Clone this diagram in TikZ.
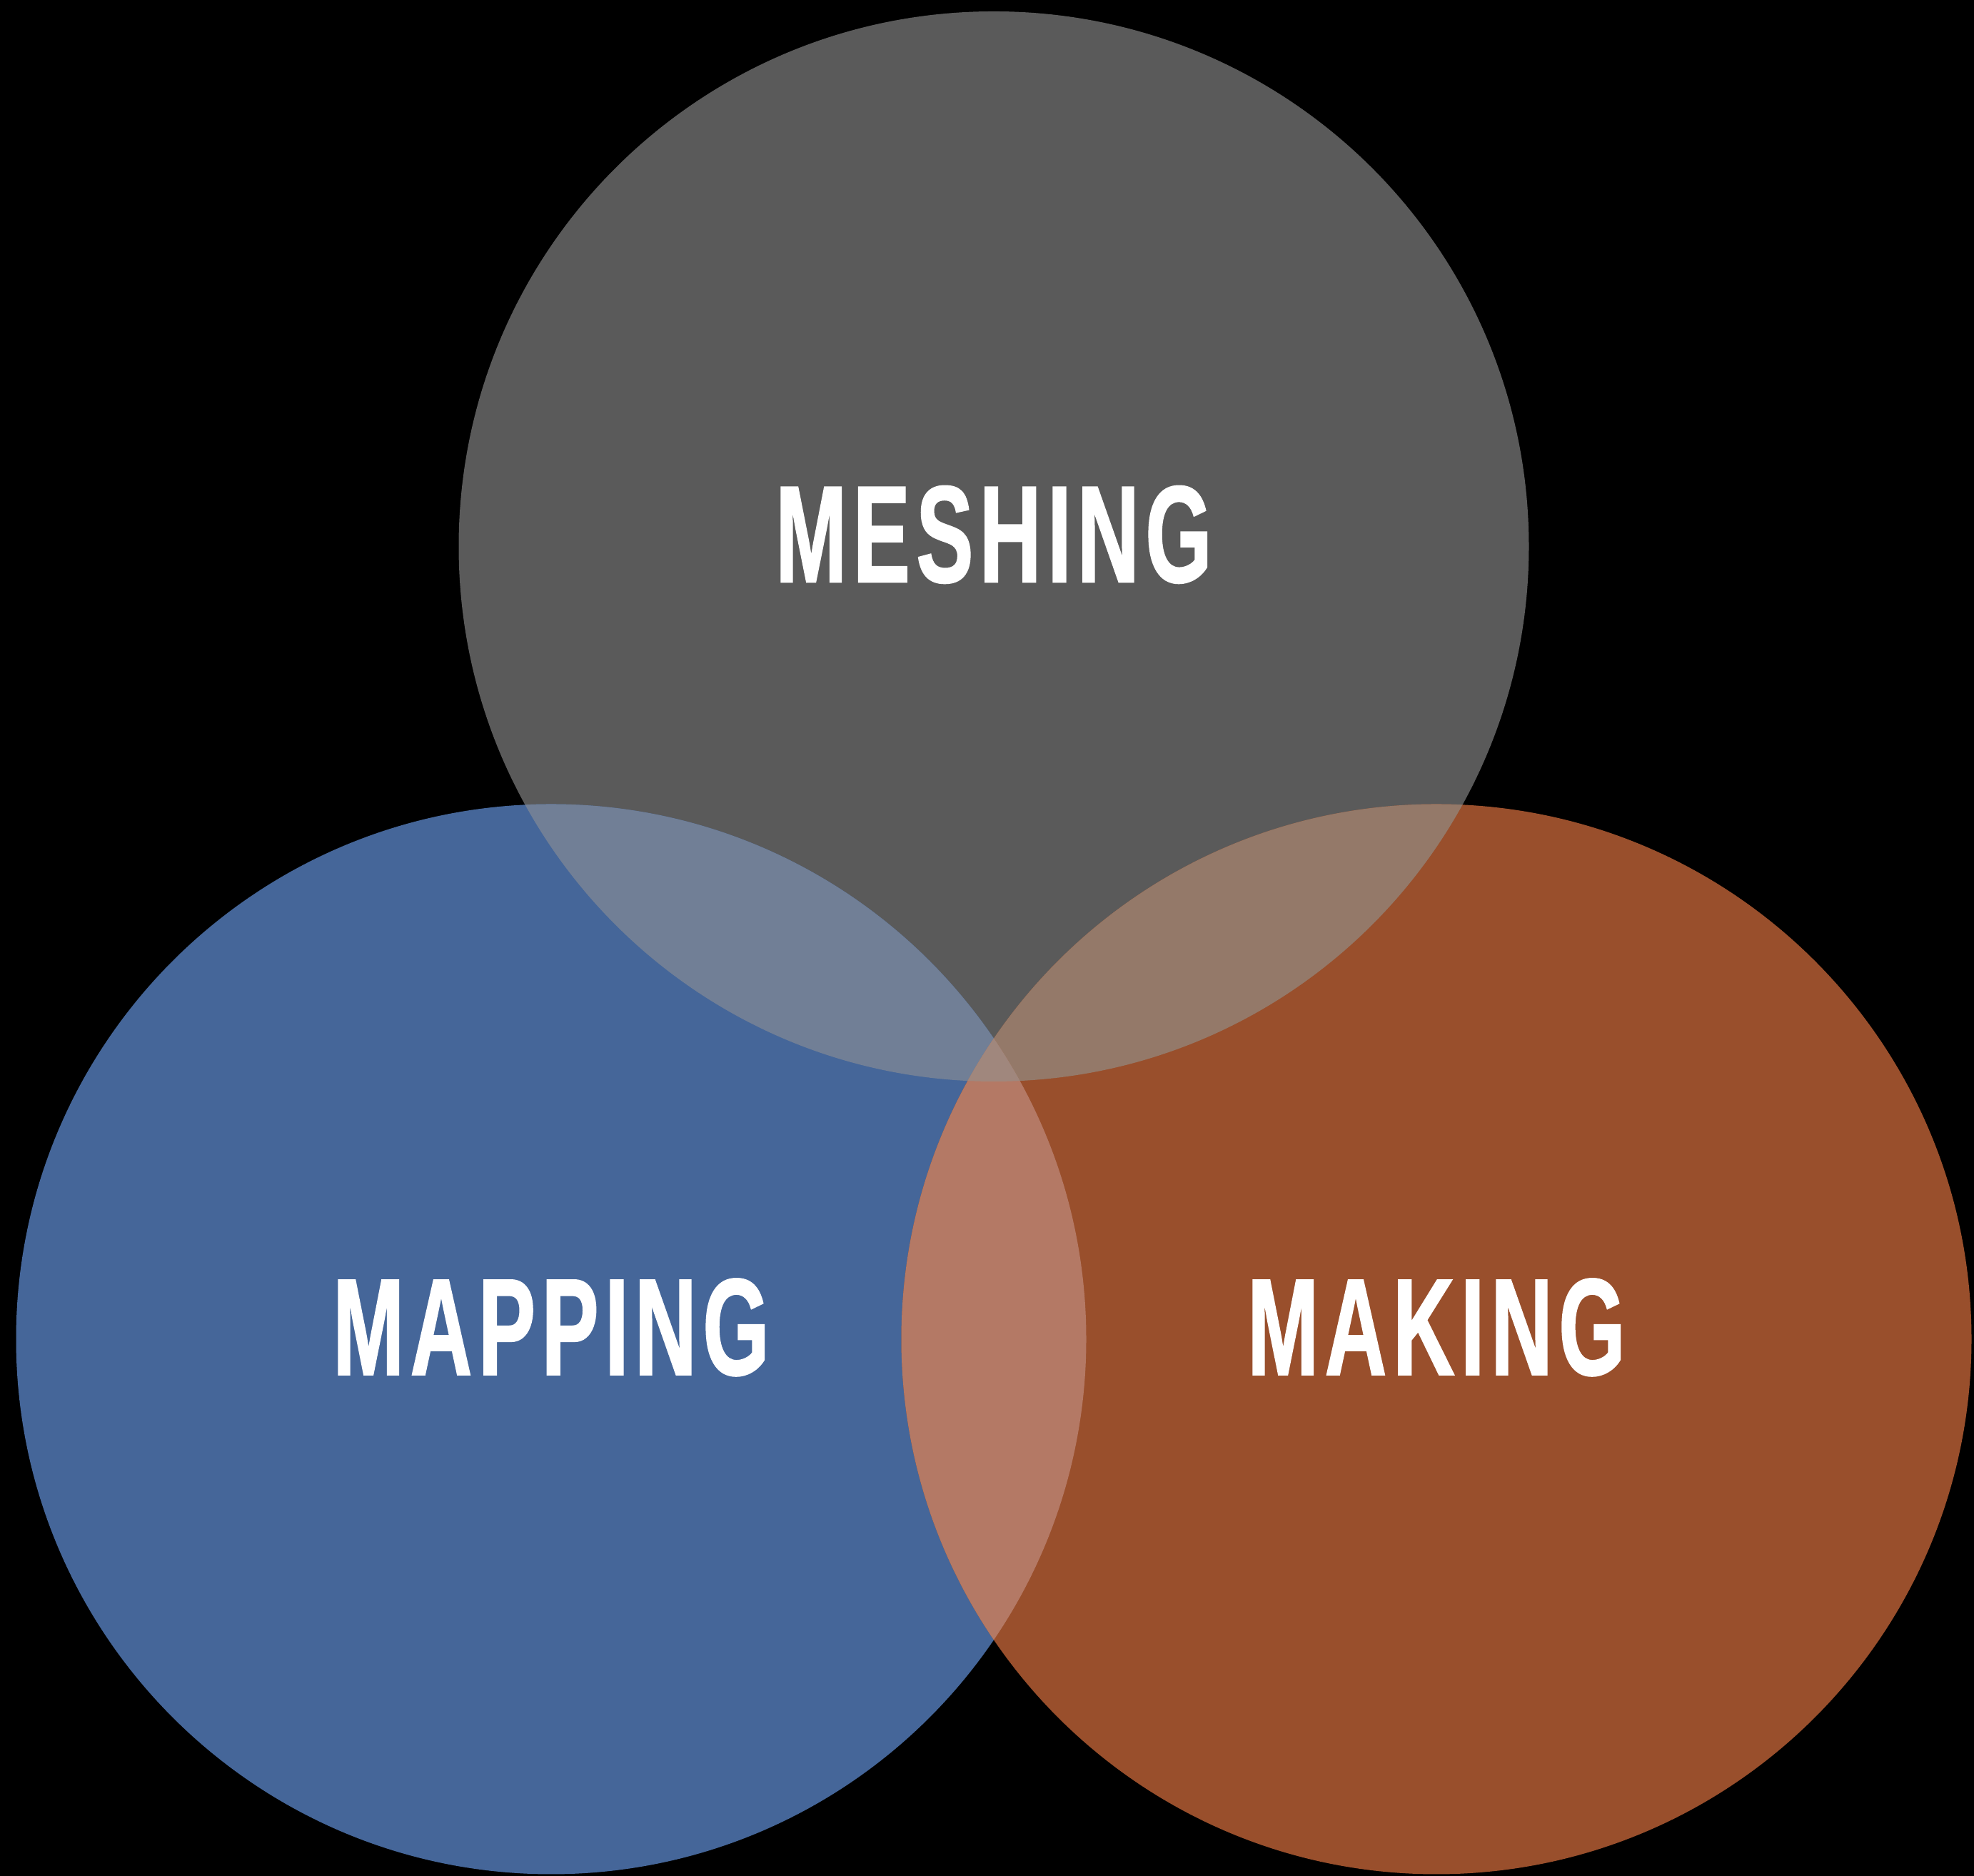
\documentclass[tikz,border=0pt]{standalone}
\usepackage{fontspec}
\newfontfamily\vennfont[FakeStretch=0.62,FakeBold=1,LetterSpace=4.5]{Liberation Sans}
\definecolor{meshgray}{HTML}{5A5A5A}
\definecolor{mapblue}{HTML}{456699}
\definecolor{makeorange}{HTML}{994F2C}
\definecolor{mapmesh}{HTML}{717F96}
\definecolor{makemesh}{HTML}{947969}
\definecolor{mapmake}{HTML}{B47965}
\definecolor{allthree}{HTML}{A0877D}
\usetikzlibrary{calc, positioning}

\begin{document}
\begin{tikzpicture}[x=1cm, y=1cm,
		vennlabel/.style={text=white, inner sep=0pt, anchor=base, font=\vennfont\bfseries\fontsize{55}{55}\selectfont}]
			
			% Background
			\fill[black] (0,0) rectangle (27.65,26.28);
			
			% Centres
			\def\r{7.495}
			\coordinate (mesh) at (13.92,18.625);
			\coordinate (map) at (7.72,7.52);
			\coordinate (make) at (20.12,7.52);
			
			% Circles
			\foreach \c/\col in {mesh/meshgray, map/mapblue, make/makeorange}
			{
				\fill[\col] (\c) circle (\r);
			}
			
			% Overlaps
			\begin{scope}
				\clip (mesh) circle (\r);
				\fill[mapmesh] (map) circle (\r);
				\fill[makemesh] (make) circle (\r);
			\end{scope}
			\begin{scope}
				\clip (map) circle (\r);
				\fill[mapmake] (make) circle (\r);
				\clip (mesh) circle (\r);
				\fill[allthree] (make) circle (\r);
			\end{scope}
			
			% Labels
			\node[vennlabel] (meshing) at ($(mesh)+(0,-0.5)$) {MESHING};
			\node[vennlabel] (mapping) at ($(map)+(0,-0.5)$) {MAPPING};
			\node[vennlabel] (making) at ($(make)+(0,-0.5)$) {MAKING};
			
		\end{tikzpicture}
\end{document}
